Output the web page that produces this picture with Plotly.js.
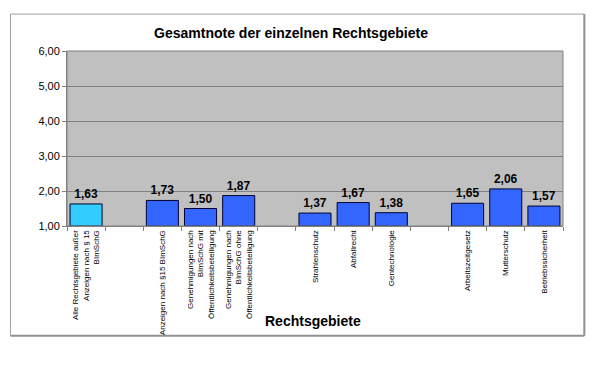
<!DOCTYPE html>
<html>
<head>
<meta charset="utf-8">
<script src="https://cdn.plot.ly/plotly-3.0.1.min.js"></script>
<style>
html,body{margin:0;padding:0;background:#fff;}
#chart{width:599px;height:368px;}
</style>
</head>
<body>
<div id="chart"></div>
<script>
// Data
var categories = [
  "Alle Rechtsgebiete außer<br>Anzeigen nach § 15<br>BImSchG",
  " ",
  "Anzeigen nach §15 BImSchG",
  "Genehmigungen nach<br>BImSchG mit<br>Öffentlichkeitsbeteiligung",
  "Genehmigungen nach<br>BImSchG ohne<br>Öffentlichkeitsbeteiligung",
  "  ",
  "Strahlenschutz",
  "Abfallrecht",
  "Gentechnologie",
  "   ",
  "Arbeitszeitgesetz",
  "Mutterschutz",
  "Betriebssicherheit"
];
var values = [1.63, null, 1.73, 1.50, 1.87, null, 1.37, 1.67, 1.38, null, 1.65, 2.06, 1.57];
var barColors = ["#33CCFF", "#3366FF", "#3366FF", "#3366FF", "#3366FF", "#3366FF", "#3366FF",
                 "#3366FF", "#3366FF", "#3366FF", "#3366FF", "#3366FF", "#3366FF"];
var yTickVals = [1, 2, 3, 4, 5, 6];

var trace = {
  type: "bar",
  x: categories,
  y: values,
  base: 1,
  marker: {color: barColors, line: {color: "#000033", width: 1}},
  texttemplate: "%{value:.2f}",
  textposition: "outside",
  cliponaxis: false,
  textfont: {family: "Arial, Liberation Sans, sans-serif", size: 12, color: "#000"},
  hoverinfo: "none"
};
// bars start at 1: y given as height above base
trace.y = values.map(function(v){ return v === null ? null : v - 1; });
trace.customdata = values;
trace.texttemplate = "<b>%{customdata:.2f}</b>";

var layout = {
  width: 599, height: 368,
  margin: {l: 67, r: 36, t: 51, b: 142},
  paper_bgcolor: "#ffffff",
  plot_bgcolor: "#C0C0C0",
  separators: ",.",
  showlegend: false,
  bargap: 0.16,
  font: {family: "Arial, Liberation Sans, sans-serif", color: "#000"},
  xaxis: {
    type: "category",
    tickangle: -90,
    tickson: "boundaries",
    ticks: "outside",
    ticklen: 4,
    tickcolor: "#808080",
    showline: true,
    linecolor: "#808080",
    linewidth: 1,
    showgrid: false,
    tickfont: {family: "Arial, Liberation Sans, sans-serif", size: 8, color: "#000"},
    fixedrange: true
  },
  yaxis: {
    range: [1, 6],
    tickvals: yTickVals,
    tickformat: ".2f",
    ticks: "outside",
    ticklen: 4,
    tickcolor: "#808080",
    showline: true,
    linecolor: "#808080",
    linewidth: 1,
    showgrid: true,
    gridcolor: "#808080",
    gridwidth: 1,
    zeroline: false,
    tickfont: {family: "Arial, Liberation Sans, sans-serif", size: 11, color: "#000"},
    fixedrange: true
  },
  title: {
    text: "<b>Gesamtnote der einzelnen Rechtsgebiete</b>",
    font: {family: "Arial, Liberation Sans, sans-serif", size: 14, color: "#000"},
    x: 291/599, xanchor: "center",
    y: 1 - 33/368, yanchor: "middle"
  },
  annotations: [{
    text: "<b>Rechtsgebiete</b>",
    xref: "paper", yref: "paper",
    x: 0.495, y: -0.541,
    xanchor: "center", yanchor: "middle",
    showarrow: false,
    font: {family: "Arial, Liberation Sans, sans-serif", size: 14, color: "#000"}
  }],
  shapes: [
    // outer frame
    {type: "line", xref: "paper", yref: "paper", x0: -0.114, x1: 1.043, y0: 1.211, y1: 1.211, line: {color: "#A0A0A0", width: 1}},
    {type: "line", xref: "paper", yref: "paper", x0: -0.114, x1: -0.114, y0: 1.211, y1: -0.627, line: {color: "#A0A0A0", width: 1}},
    {type: "line", xref: "paper", yref: "paper", x0: 1.043, x1: 1.043, y0: 1.211, y1: -0.627, line: {color: "#909090", width: 2}},
    {type: "line", xref: "paper", yref: "paper", x0: -0.114, x1: 1.043, y0: -0.627, y1: -0.627, line: {color: "#909090", width: 2}},
    // plot area border
    {type: "rect", xref: "paper", yref: "paper", x0: 0, x1: 1, y0: 0, y1: 1, line: {color: "#808080", width: 1}}
  ]
};

Plotly.newPlot("chart", [trace], layout, {displayModeBar: false, staticPlot: true});
</script>
</body>
</html>
